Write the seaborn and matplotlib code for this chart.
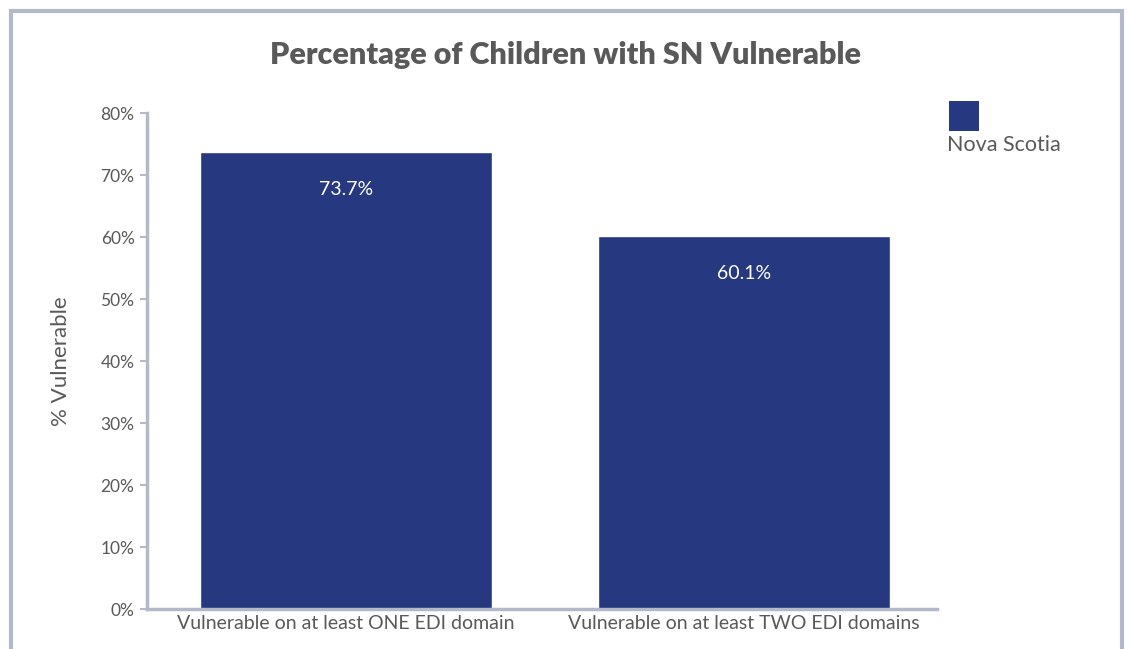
import matplotlib
matplotlib.use("Agg")
import matplotlib.pyplot as plt
import seaborn as sns
import pandas as pd
from matplotlib.patches import Rectangle

categories = ["Vulnerable on at least ONE EDI domain", "Vulnerable on at least TWO EDI domains"]
values = [73.7, 60.1]
series_name = "Nova Scotia"
yticks = [0, 10, 20, 30, 40, 50, 60, 70, 80]
title = "Percentage of Children with SN Vulnerable"
ylabel = "% Vulnerable"

sns.set_style("white")
plt.rcParams['font.family'] = ['Lato', 'DejaVu Sans']

bar_color = "#26387F"
text_color = "#595959"
frame_color = "#B2BACA"

df = pd.DataFrame({"category": categories, "value": values})

fig = plt.figure(figsize=(11.31, 6.49), dpi=100)
ax = fig.add_axes([147/1131, 1 - 609/649, (943 - 147)/1131, (609 - 113)/649])

sns.barplot(data=df, x="category", y="value", color=bar_color, width=0.734,
            saturation=1, ax=ax)

ax.set_ylim(0, 80)
ax.set_xlim(-0.5, 1.5)
ax.set_yticks(yticks)
ax.set_yticklabels([f"{t}%" for t in yticks], color=text_color, fontsize=12.5)
ax.tick_params(axis='x', labelsize=14, colors=text_color, length=0, pad=4)
ax.tick_params(axis='y', length=5, width=1.5, color=frame_color, pad=4, left=True)
ax.set_xlabel("")
ax.set_ylabel(ylabel, fontsize=16, color=text_color)
ax.yaxis.set_label_coords(-0.095, 0.5)

for s in ["top", "right"]:
    ax.spines[s].set_visible(False)
for s in ["left", "bottom"]:
    ax.spines[s].set_color(frame_color)
    ax.spines[s].set_linewidth(2.5)
ax.spines["bottom"].set_bounds(-0.5, 1.485)

for cont in ax.containers:
    ax.bar_label(cont, labels=[f"{v:.1f}%" for v in values], label_type="edge",
                 padding=-33, color="white", fontsize=14)

fig.text(0.5, 1 - 55/649, title, ha="center", va="center", fontsize=22,
         fontweight="heavy", color=text_color)

# legend
fig.patches.append(Rectangle((949/1131, 1 - 131/649), 30/1131, 30/649,
                             transform=fig.transFigure, facecolor=bar_color,
                             edgecolor="none"))
fig.text(947/1131, 1 - 145/649, series_name, ha="left", va="center",
         fontsize=15.5, color=text_color)

# outer frame
fig.patches.append(Rectangle((11/1131, -0.05), (1122 - 11)/1131, 1.05 - 11/649,
                             transform=fig.transFigure, facecolor="none",
                             edgecolor=frame_color, linewidth=3))

fig.savefig("out.png", dpi=100)
